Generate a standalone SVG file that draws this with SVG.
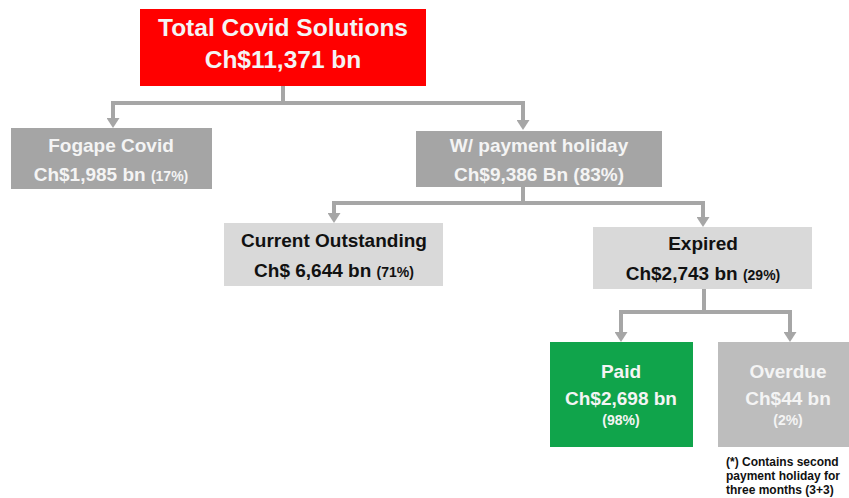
<svg xmlns="http://www.w3.org/2000/svg" width="849" height="498" viewBox="0 0 849 498">
<style>
text{font-family:"Liberation Sans",Arial,sans-serif;font-weight:bold;text-anchor:middle}
.w{fill:#f4f4f4}
.k{fill:#111111}
.big{font-size:24.5px}
.m{font-size:19px}
.s{font-size:14px}
.note{font-size:12px;text-anchor:start;fill:#111111}
.conn{fill:none;stroke:#a6a6a6;stroke-width:4}
</style>
<defs>
<marker id="arr" viewBox="0 0 10 13" markerWidth="10" markerHeight="13" refX="3" refY="6.5" orient="auto" markerUnits="userSpaceOnUse">
<path d="M0,0 L10,6.5 L0,13 z" fill="#a6a6a6"/>
</marker>
</defs>
<rect width="849" height="498" fill="#ffffff"/>
<g id="connectors">
<path class="conn" d="M283 86 V103 H113 V121" marker-end="url(#arr)"/>
<path class="conn" d="M283 86 V103 H523 V123" marker-end="url(#arr)"/>
<path class="conn" d="M523 187 V203 H334 V216" marker-end="url(#arr)"/>
<path class="conn" d="M523 187 V203 H703 V220" marker-end="url(#arr)"/>
<path class="conn" d="M704 289 V312 H621 V335" marker-end="url(#arr)"/>
<path class="conn" d="M704 289 V312 H790 V335" marker-end="url(#arr)"/>
</g>
<g id="total">
<rect x="140" y="9" width="286" height="77" fill="#ff0000"/>
<text class="w big" x="283" y="36">Total Covid Solutions</text>
<text class="w big" x="283" y="68">Ch$11,371 bn</text>
</g>
<g id="fogape">
<rect x="11" y="128" width="201" height="61" fill="#a5a5a5"/>
<text class="w m" x="111" y="152">Fogape Covid</text>
<text class="w m" x="111" y="181">Ch$1,985 bn <tspan class="s">(17%)</tspan></text>
</g>
<g id="holiday">
<rect x="416" y="131" width="246" height="56" fill="#a5a5a5"/>
<text class="w m" x="539" y="152">W/ payment holiday</text>
<text class="w m" x="539" y="181">Ch$9,386 Bn (83%)</text>
</g>
<g id="outstanding">
<rect x="224" y="223" width="219" height="63" fill="#d9d9d9"/>
<text class="k m" x="334" y="247">Current Outstanding</text>
<text class="k m" x="334" y="277">Ch$ 6,644 bn <tspan class="s">(71%)</tspan></text>
</g>
<g id="expired">
<rect x="593" y="227" width="219" height="62" fill="#d9d9d9"/>
<text class="k m" x="703" y="250">Expired</text>
<text class="k m" x="703" y="280">Ch$2,743 bn <tspan class="s">(29%)</tspan></text>
</g>
<g id="paid">
<rect x="550" y="342" width="143" height="105" fill="#10a44b"/>
<text class="w m" x="621" y="378">Paid</text>
<text class="w m" x="621" y="405">Ch$2,698 bn</text>
<text class="w s" x="621" y="425">(98%)</text>
</g>
<g id="overdue">
<rect x="718" y="342" width="140" height="105" fill="#bdbdbd"/>
<text class="w m" x="788" y="378">Overdue</text>
<text class="w m" x="788" y="405">Ch$44 bn</text>
<text class="w s" x="788" y="425">(2%)</text>
</g>
<g id="footnote">
<text class="note" x="726" y="466">(*) Contains second</text>
<text class="note" x="726" y="480">payment holiday for</text>
<text class="note" x="726" y="494">three months (3+3)</text>
</g>
</svg>
